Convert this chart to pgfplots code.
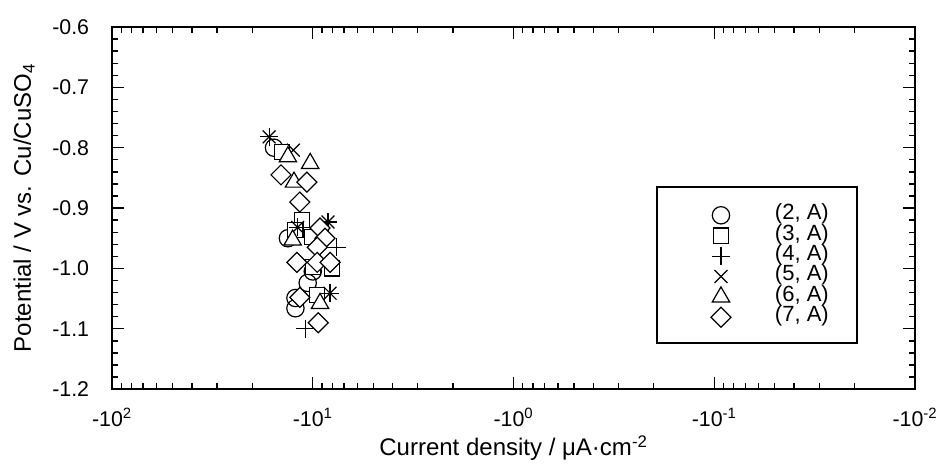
\documentclass[border=0pt]{standalone}
\usepackage{fontspec}
\setmainfont{Liberation Sans}
\usepackage{pgfplots}
\pgfplotsset{compat=1.18}
% x values are current densities (all negative); stored as magnitudes |i|
% and drawn on a reversed log axis labelled -10^n
\pgfplotstableread{
x y
15.6 -0.800
13.3 -0.950
10.0 -1.005
10.6 -1.024
12.2 -1.049
12.2 -1.066
}\sA
\pgfplotstableread{
x y
14.2 -0.807
11.3 -0.920
12.2 -0.936
10.1 -0.948
10.0 -0.998
8.0 -1.000
9.5 -1.044
}\sB
\pgfplotstableread{
x y
16.5 -0.782
11.9 -0.932
8.4 -0.923
7.6 -0.965
8.2 -1.041
10.9 -1.100
}\sC
\pgfplotstableread{
x y
16.5 -0.782
12.5 -0.804
11.9 -0.932
8.4 -0.923
8.2 -1.041
}\sD
\pgfplotstableread{
x y
13.3 -0.815
10.3 -0.826
12.4 -0.857
12.6 -0.953
9.2 -1.058
}\sE
\pgfplotstableread{
x y
14.4 -0.845
10.7 -0.857
11.6 -0.890
9.2 -0.933
8.7 -0.950
9.5 -0.965
12.0 -0.990
9.5 -0.990
8.2 -0.990
11.6 -1.048
9.4 -1.090
}\sF
\begin{document}
\begin{tikzpicture}
\useasboundingbox (-84pt,-57pt) rectangle (620.75pt,291.75pt);
\begin{axis}[
  at={(0pt,0pt)}, anchor=south west,
  scale only axis,
  width=602pt, height=271.5pt,
  xmode=log, x dir=reverse,
  xmin=0.01, xmax=100,
  ymin=-1.2, ymax=-0.6,
  xtick={0.01,0.1,1,10,100},
  xticklabels={-10\textsuperscript{-2},-10\textsuperscript{-1},-10\textsuperscript{0},-10\textsuperscript{1},-10\textsuperscript{2}},
  ytick={-1.2,-1.1,-1.0,-0.9,-0.8,-0.7,-0.6},
  minor y tick num=4,
  /pgf/number format/assume math mode=true,
  y tick label style={/pgf/number format/fixed, /pgf/number format/fixed zerofill, /pgf/number format/precision=1},
  tick align=inside,
  major tick length=9pt,
  minor tick length=4.5pt,
  every tick/.style={black, line width=1pt},
  axis line style={line width=1.6pt},
  tick label style={font=\fontsize{16}{18}\selectfont},
  yticklabel style={anchor=east, inner sep=0pt, xshift=-17pt},
  xticklabel style={anchor=north, inner sep=0pt, yshift=-14pt},
  label style={font=\fontsize{18}{20}\selectfont},
  xlabel={Current density / μA·cm\textsuperscript{-2}},
  ylabel={Potential / V vs. Cu/CuSO\textsubscript{4}},
  xlabel style={at={(axis description cs:0.5,0)}, anchor=base, inner sep=0pt, yshift=-50pt},
  ylabel style={at={(axis description cs:0,0.5)}, anchor=center, inner sep=0pt, yshift=66pt},
  legend style={at={(axis description cs:0.7456,0.509)}, anchor=north west,
    draw=none, fill=none, inner sep=0pt, column sep=33pt, row sep=0pt,
    nodes={inner sep=0pt, text height=11pt, text depth=4.3pt, font=\fontsize{16.5}{18}\selectfont}},
  legend cell align=left,
  every axis plot/.append style={only marks, black, line width=0.9pt, mark options={fill=white, solid}},
]
\addplot[mark=o, mark size=6.5pt] table[x=x,y=y] {\sA};
\addlegendentry{(2, A)}
\addplot[mark=square*, mark size=5.7pt] table[x=x,y=y] {\sB};
\addlegendentry{(3, A)}
\addplot[mark=+, mark size=6.8pt] table[x=x,y=y] {\sC};
\addlegendentry{(4, A)}
\addplot[mark=x, mark size=6.8pt] table[x=x,y=y] {\sD};
\addlegendentry{(5, A)}
\addplot[mark=triangle*, mark size=7.5pt] table[x=x,y=y] {\sE};
\addlegendentry{(6, A)}
\addplot[mark=square*, mark size=5.3pt, mark options={rotate=45, fill=white}] table[x=x,y=y] {\sF};
\addlegendentry{(7, A)}
\draw[line width=1.5pt] (rel axis cs:0.679,0.127) rectangle (rel axis cs:0.928,0.558);
\end{axis}
\end{tikzpicture}
\end{document}
